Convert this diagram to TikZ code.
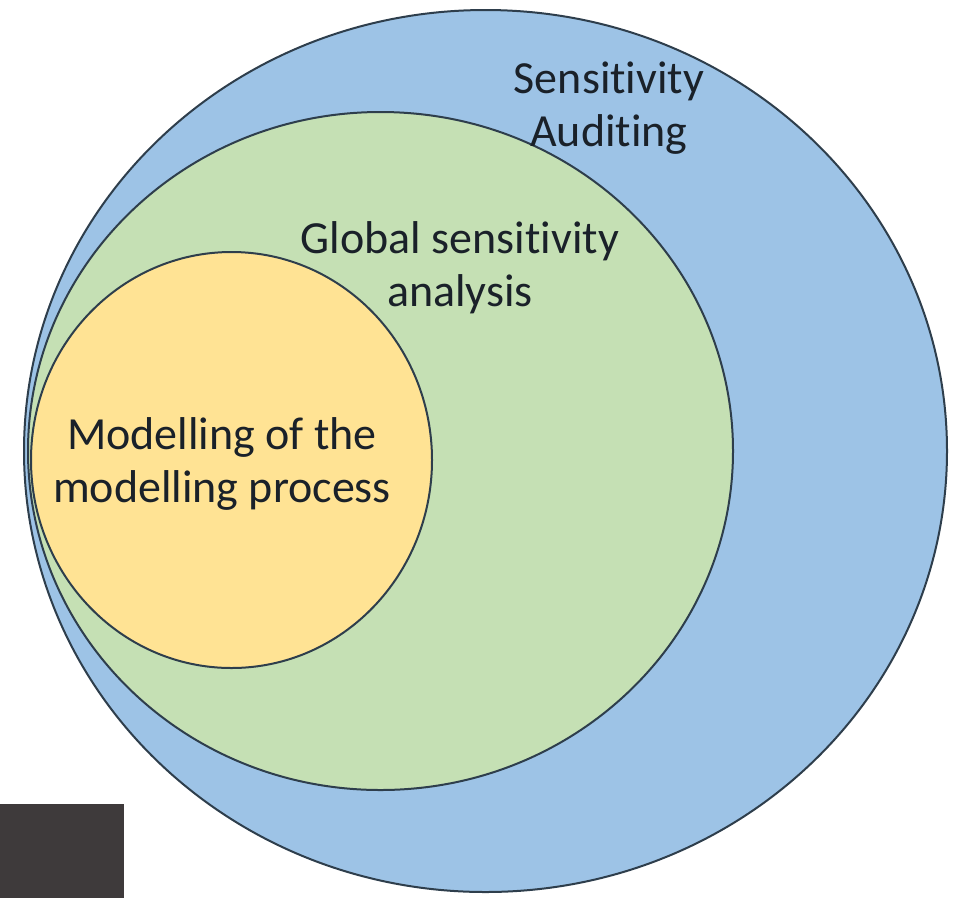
\documentclass[tikz,border=0pt]{standalone}
\usepackage{fontspec}
\setmainfont[Ligatures={NoCommon}]{Carlito}
\usetikzlibrary{shapes.geometric}
\definecolor{blueF}{HTML}{9DC3E6}
\definecolor{greenF}{HTML}{C5E0B4}
\definecolor{yellowF}{HTML}{FFE394}
\definecolor{edgeC}{HTML}{2E3E4C}
\definecolor{textC}{HTML}{1A2129}
\definecolor{darkbox}{HTML}{3E3A3B}
\tikzset{
  zone/.style={ellipse, draw=edgeC, line width=2pt, inner sep=0pt},
  lbl/.style={align=center, text=textC, font=\fontsize{46}{53}\selectfont, inner sep=0pt}
}
\begin{document}
\begin{tikzpicture}[x=1pt,y=-1pt]
\useasboundingbox (0,0) rectangle (960,898);
\fill[white] (0,0) rectangle (960,898);
\node[zone, fill=blueF, minimum width=923pt, minimum height=882pt] (audit) at (485.5,451) {};
\node[zone, fill=greenF, minimum width=705pt, minimum height=678pt] (gsa) at (380.5,451) {};
\node[zone, fill=yellowF, minimum width=401pt, minimum height=416pt] (mmp) at (231.5,460) {};
\node[lbl] (auditT) at (609,108) {Sensitivity\\Auditing};
\node[lbl] (gsaT) at (460,268) {Global sensitivity\\analysis};
\node[lbl] (mmpT) at (222,464) {Modelling of the\\modelling process};
\fill[darkbox] (0,804) rectangle (124,898);
\end{tikzpicture}
\end{document}
